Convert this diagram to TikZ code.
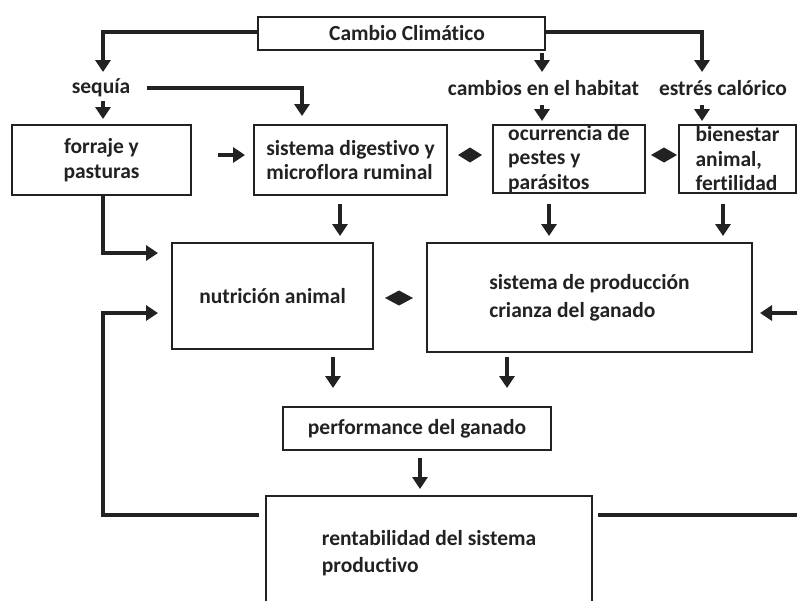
\documentclass[tikz,border=0pt]{standalone}
\usepackage{fontspec}
\setmainfont{Carlito}[Ligatures={NoCommon}]
\usetikzlibrary{arrows.meta}
\definecolor{ink}{HTML}{222222}
\newcommand{\txtfont}{\bfseries\fontsize{21.5}{24.5}\selectfont}
\tikzset{
  box/.style={draw=ink, line width=2.6pt, fill=white, inner sep=0pt, text=ink,
    font=\txtfont},
  lbl/.style={inner sep=0pt, text=ink, font=\txtfont},
  arr/.style={draw=ink, line width=3.6pt, -{Triangle[width=15pt,length=12pt]}},
  wire/.style={draw=ink, line width=3.6pt},
  dia/.style={fill=ink}
}
\begin{document}
\begin{tikzpicture}[x=1pt,y=-1pt]
\useasboundingbox (0,0) rectangle (797,600);
\clip (0,0) rectangle (797,600);
\fill[white] (0,0) rectangle (797,600);

% boxes
\node[box, minimum width=287, minimum height=33] (cc) at (401.5,33.5) {\hspace*{11pt}Cambio Climático};
\node[box, minimum width=179, minimum height=70, align=center] (forr) at (101.5,160) {forraje y\\pasturas};
\node[box, minimum width=193, minimum height=70, align=left] (dig) at (350.5,160) {sistema digestivo y\\microflora ruminal};
\node[box, minimum width=152, minimum height=68, align=left] (plag) at (569,159) {ocurrencia de\\pestes y\\parásitos};
\node[box, minimum width=117, minimum height=68, align=left] (bien) at (737.5,159) {bienestar\\animal,\\fertilidad};
\node[box, minimum width=201, minimum height=106] (nut) at (272.5,296) {nutrición animal};
\node[box, minimum width=325, minimum height=109, align=left,
      font=\bfseries\fontsize{21.5}{28}\selectfont] (prod) at (589.5,297.5) {sistema de producción\\crianza del ganado};
\node[box, minimum width=268, minimum height=43] (perf) at (417,428.5) {performance del ganado};
\node[box, minimum width=326, minimum height=114, align=left,
      font=\bfseries\fontsize{21.5}{27}\selectfont] (rent) at (429,553) {rentabilidad del sistema\\productivo};

% effect labels
\node[lbl] (seq) at (101,88) {sequía};
\node[lbl] (hab) at (543.5,88) {cambios en el habitat};
\node[lbl] (est) at (723,88) {estrés calórico};

% free ends of the connectors
\coordinate (seqTop) at (103,72);
\coordinate (estTop) at (702,72);
\coordinate (habTop) at (542,72);
\coordinate (habStart) at (542,53);
\coordinate (digTop) at (302,116);
\coordinate (nutIn1) at (158,253);
\coordinate (nutIn2) at (158,313);
\coordinate (rentL) at (259,515);
\coordinate (rentR) at (598,515);
\coordinate (edgeR1) at (797,515);
\coordinate (edgeR2) at (797,313);

% climate change to its effects
\draw[arr] (cc.west |- 0,32) -| (seqTop);
\draw[arr] (cc.east |- 0,32) -| (estTop);
\draw[arr] (habStart) -- (habTop);

% effects to the second row
\draw[arr] (103,101) -- (103,119);
\draw[arr] (147,88) -| (digTop);
\draw[arr] (542,105) -- (542,121);
\draw[arr] (702,105) -- (702,121);

% links within the second row
\draw[arr] (218,155) -- (245,155);
\fill[dia] (458,155) -- (470,147.5) -- (482,155) -- (470,162.5) -- cycle;
\fill[dia] (651,155) -- (664,147.5) -- (677,155) -- (664,162.5) -- cycle;

% second row down to the third
\draw[wire] (103,195) -- (103,253);
\draw[arr] (101.2,253) -- (nutIn1);
\draw[arr] (340,204) -- (340,236);
\draw[arr] (549,204) -- (549,236);
\draw[arr] (723,204) -- (723,236);

% third row
\fill[dia] (385,298) -- (399,290.5) -- (413,298) -- (399,305.5) -- cycle;
\draw[arr] (edgeR2) -- (760,313);

% toward performance and profitability
\draw[arr] (333,357) -- (333,388);
\draw[arr] (507,357) -- (507,388);
\draw[arr] (420,458) -- (420,489);

% feedback lines from profitability
\draw[arr] (rentL) -| (103,313) -- (nutIn2);
\draw[wire] (rentR) -- (edgeR1);
\end{tikzpicture}
\end{document}
